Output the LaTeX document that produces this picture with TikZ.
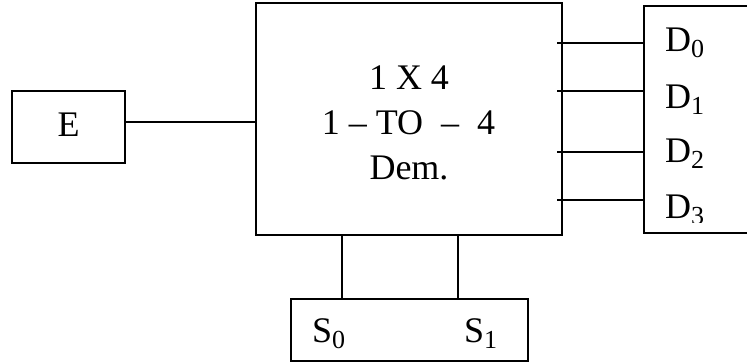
\documentclass[tikz,border=0pt]{standalone}
\usepackage{fontspec}
\setmainfont{Liberation Serif}
\newcommand\mysub[1]{\raisebox{-6pt}{\fontsize{26}{26}\selectfont #1}}
\begin{document}
\begin{tikzpicture}[x=1pt,y=-1pt,
  box/.style={draw,line width=2pt,rectangle,inner sep=0pt},
  wire/.style={line width=1.4pt},
  txt/.style={inner sep=0pt,anchor=base,font=\fontsize{36}{36}\selectfont},
  lbl/.style={inner sep=0pt,anchor=base west,font=\fontsize{36}{36}\selectfont}]
\clip (0,0) rectangle (747,363);
\node[box,minimum width=306pt,minimum height=232pt] (main) at (409,119) {};
\node[box,minimum width=113pt,minimum height=72pt] (E) at (68.5,127) {};
\node[box,minimum width=200pt,minimum height=227pt] (out) at (744,119.5) {};
\node[box,minimum width=237pt,minimum height=62pt] (S) at (409.5,330) {};
% texts
\node[txt] (t1) at (409,90) {1 X 4};
\node[txt] (t2) at (408.5,135) {1 – TO \ – \ 4};
\node[txt] (t3) at (409,180) {Dem.};
\node[txt] (tE) at (68.5,137) {E};
\node[lbl] (d0) at (665,52) {D\mysub{0}};
\node[lbl] (d1) at (665,109) {D\mysub{1}};
\node[lbl] (d2) at (665,163) {D\mysub{2}};
\begin{scope}
\clip (640,180) rectangle (747,223);
\node[lbl] (d3) at (665,219) {D\mysub{3}};
\end{scope}
\node[lbl] (s0) at (312,342) {S\mysub{0}};
\node[lbl] (s1) at (464,342) {S\mysub{1}};
% wires
\draw[wire] (E.east |- 0,122) -- (main.west |- 0,122);
\foreach \yy in {43,91,152,200}
  \draw[wire] ([xshift=-6pt]main.east |- 0,\yy) -- (out.west |- 0,\yy);
\draw[wire] (main.south -| 342,0) -- (S.north -| 342,0);
\draw[wire] (main.south -| 458,0) -- (S.north -| 458,0);
\end{tikzpicture}
\end{document}
